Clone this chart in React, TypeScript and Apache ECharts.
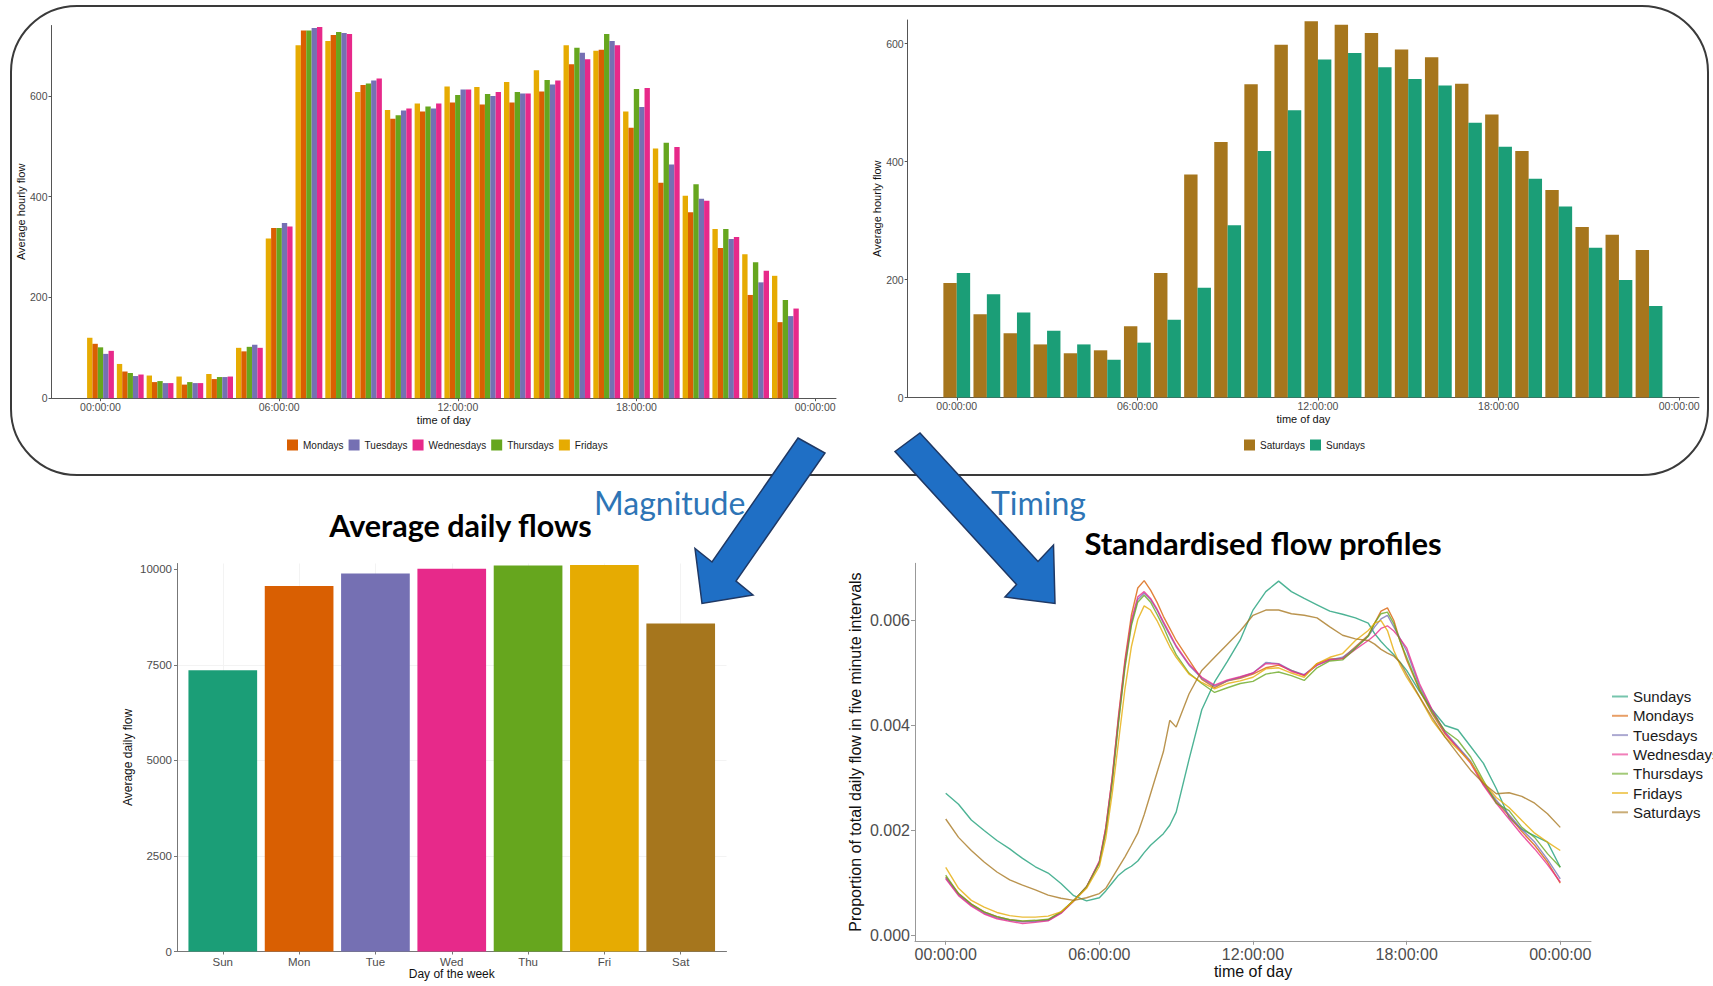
import React, { useEffect, useRef } from "react";
import * as echarts from "echarts";

// ---------- DATA ----------
const HOURS = [0, 1, 2, 3, 4, 5, 6, 7, 8, 9, 10, 11, 12, 13, 14, 15, 16, 17, 18, 19, 20, 21, 22, 23];
const TIME_TICKS = [0, 6, 12, 18, 24];

// Average hourly flow, weekdays (top left)
const MON_HOURLY = [108, 53, 32, 27, 38, 93, 338, 730, 721, 622, 555, 569, 587, 583, 587, 609, 663, 692, 537, 428, 369, 298, 205, 151];
const TUE_HOURLY = [88, 44, 30, 30, 42, 106, 348, 735, 725, 631, 571, 575, 613, 600, 605, 623, 686, 709, 578, 464, 396, 316, 230, 163];
const WED_HOURLY = [94, 47, 30, 30, 43, 100, 341, 737, 723, 635, 575, 585, 613, 608, 605, 631, 673, 701, 616, 499, 392, 320, 253, 178];
const THU_HOURLY = [101, 50, 34, 32, 42, 102, 338, 730, 727, 625, 562, 579, 602, 604, 608, 632, 696, 723, 614, 507, 425, 336, 270, 195];
const FRI_HOURLY = [120, 68, 45, 43, 48, 100, 317, 701, 709, 608, 572, 585, 619, 618, 628, 651, 701, 690, 569, 496, 402, 336, 286, 243];

// Average hourly flow, weekend (top right)
const SAT_HOURLY = [194, 141, 109, 90, 75, 80, 121, 211, 378, 433, 531, 598, 638, 632, 618, 590, 577, 532, 480, 418, 352, 289, 276, 250];
const SUN_HOURLY = [211, 175, 144, 113, 90, 64, 93, 132, 186, 292, 418, 487, 573, 584, 560, 540, 529, 466, 425, 371, 324, 254, 199, 155];

// Average daily flow (bottom left)
const DAYS = ["Sun", "Mon", "Tue", "Wed", "Thu", "Fri", "Sat"];
const DAY_POS = [1, 2, 3, 4, 5, 6, 7];
const DAILY_FLOW = [7360, 9560, 9890, 10010, 10100, 10110, 8580];
const DAILY_TICKS = [0, 2500, 5000, 7500, 10000];

// Standardised profiles (bottom right), values in thousandths
const PROFILE_T = [0, 0.5, 1, 1.5, 2, 2.5, 3, 3.5, 4, 4.5, 5, 5.5, 6, 6.25, 6.5, 6.75, 7, 7.25, 7.5, 7.75, 8, 8.25, 8.5, 8.75, 9, 9.5, 10, 10.5, 11, 11.5, 12, 12.5, 13, 13.5, 14, 14.5, 15, 15.5, 16, 16.5, 16.75, 17, 17.25, 17.5, 17.75, 18, 18.5, 19, 19.5, 20, 20.5, 21, 21.5, 22, 22.5, 23, 23.5, 24];
const SUN_PROFILE = [2.71, 2.5, 2.2, 2.0, 1.81, 1.65, 1.47, 1.31, 1.19, 0.99, 0.76, 0.66, 0.72, 0.85, 1.0, 1.15, 1.25, 1.32, 1.42, 1.58, 1.72, 1.83, 1.94, 2.1, 2.35, 3.35, 4.3, 4.83, 5.22, 5.63, 6.2, 6.55, 6.75, 6.55, 6.42, 6.3, 6.18, 6.12, 6.05, 5.95, 5.75, 5.6, 5.47, 5.35, 5.2, 5.05, 4.65, 4.3, 4.0, 3.92, 3.6, 3.28, 2.8, 2.25, 2.02, 1.9, 1.78, 1.3];
const MON_PROFILE = [1.12, 0.8, 0.6, 0.45, 0.36, 0.3, 0.27, 0.28, 0.3, 0.44, 0.67, 0.93, 1.4, 2.05, 3.0, 4.2, 5.25, 6.1, 6.62, 6.76, 6.58, 6.35, 6.08, 5.85, 5.62, 5.25, 4.88, 4.72, 4.85, 4.9, 4.98, 5.1, 5.15, 5.05, 4.95, 5.18, 5.27, 5.28, 5.5, 5.72, 5.95, 6.18, 6.24, 6.0, 5.6, 5.25, 4.68, 4.22, 3.84, 3.58, 3.3, 2.88, 2.55, 2.28, 1.98, 1.72, 1.4, 1.0];
const TUE_PROFILE = [1.1, 0.78, 0.58, 0.43, 0.34, 0.29, 0.26, 0.27, 0.29, 0.43, 0.66, 0.92, 1.4, 2.0, 2.95, 4.1, 5.15, 5.95, 6.4, 6.52, 6.4, 6.2, 5.95, 5.72, 5.5, 5.15, 4.9, 4.75, 4.85, 4.92, 5.0, 5.2, 5.18, 5.05, 4.97, 5.15, 5.25, 5.3, 5.48, 5.7, 5.88, 6.03, 6.1, 5.88, 5.65, 5.42, 4.75, 4.28, 3.88, 3.6, 3.32, 2.9, 2.58, 2.3, 2.02, 1.78, 1.45, 1.08];
const WED_PROFILE = [1.08, 0.76, 0.56, 0.41, 0.32, 0.27, 0.23, 0.25, 0.28, 0.42, 0.66, 0.93, 1.42, 2.05, 3.0, 4.15, 5.2, 6.0, 6.45, 6.55, 6.42, 6.22, 5.98, 5.75, 5.52, 5.17, 4.92, 4.77, 4.87, 4.93, 5.0, 5.18, 5.17, 5.03, 4.96, 5.15, 5.25, 5.27, 5.45, 5.62, 5.72, 5.85, 5.9, 5.8, 5.65, 5.48, 4.8, 4.3, 3.86, 3.57, 3.28, 2.86, 2.52, 2.22, 1.92, 1.65, 1.35, 1.02];
const THU_PROFILE = [1.15, 0.8, 0.6, 0.45, 0.36, 0.3, 0.28, 0.29, 0.31, 0.45, 0.67, 0.93, 1.38, 1.98, 2.9, 4.05, 5.1, 5.9, 6.35, 6.48, 6.35, 6.12, 5.88, 5.6, 5.35, 5.0, 4.8, 4.63, 4.72, 4.8, 4.84, 4.98, 5.02, 4.95, 4.86, 5.1, 5.23, 5.25, 5.47, 5.7, 5.95, 6.13, 6.16, 5.94, 5.6, 5.3, 4.7, 4.25, 3.9, 3.72, 3.4, 2.95, 2.52, 2.38, 2.06, 1.87, 1.56, 1.3];
const FRI_PROFILE = [1.3, 0.9, 0.67, 0.54, 0.44, 0.38, 0.35, 0.35, 0.37, 0.45, 0.66, 0.9, 1.32, 1.85, 2.7, 3.7, 4.7, 5.5, 6.02, 6.28, 6.2, 6.0, 5.75, 5.5, 5.3, 4.98, 4.82, 4.7, 4.8, 4.85, 4.92, 5.08, 5.1, 5.0, 4.92, 5.18, 5.3, 5.37, 5.62, 5.81, 5.95, 6.0, 5.81, 5.43, 5.15, 4.92, 4.54, 4.1, 3.78, 3.55, 3.3, 2.92, 2.63, 2.44, 2.19, 1.95, 1.78, 1.62];
const SAT_PROFILE = [2.22, 1.87, 1.62, 1.4, 1.21, 1.06, 0.96, 0.87, 0.77, 0.71, 0.67, 0.72, 0.8, 0.9, 1.1, 1.3, 1.5, 1.72, 1.95, 2.3, 2.7, 3.1, 3.5, 4.1, 3.97, 4.6, 5.05, 5.3, 5.55, 5.8, 6.1, 6.2, 6.2, 6.13, 6.1, 6.05, 5.88, 5.72, 5.65, 5.62, 5.55, 5.45, 5.38, 5.32, 5.2, 4.98, 4.55, 4.15, 3.78, 3.46, 3.15, 2.9, 2.7, 2.72, 2.65, 2.52, 2.32, 2.06];
const PROFILE_TICKS = [0, 2, 4, 6];

const COLORS: Record<string, string> = {
  Sundays: "#1B9E77",
  Mondays: "#D95F02",
  Tuesdays: "#7570B3",
  Wednesdays: "#E7298A",
  Thursdays: "#66A61E",
  Fridays: "#E6AB02",
  Saturdays: "#A6761D",
};
const DAY_COLORS = ["#1B9E77", "#D95F02", "#7570B3", "#E7298A", "#66A61E", "#E6AB02", "#A6761D"];

const FONT = "'Liberation Sans', Arial, Helvetica, sans-serif";
const TITLE_FONT = "Lato, 'Open Sans', sans-serif";

function hourLabel(v: number): string {
  const h = ((Math.round(v) % 24) + 24) % 24;
  return (h < 10 ? "0" : "") + h + ":00:00";
}

function timeAxis(gridIndex: number, min: number, max: number, fs: number, nameFs: number, nameGap: number, margin: number, lineColor: string, tickLen: number) {
  return {
    type: "value",
    gridIndex,
    min,
    max,
    name: "time of day",
    nameLocation: "middle",
    nameGap,
    nameTextStyle: { fontSize: nameFs, color: "#111", fontFamily: FONT },
    axisLine: { show: true, onZero: false, lineStyle: { color: lineColor, width: 1 } },
    axisTick: { show: true, customValues: TIME_TICKS, length: tickLen, lineStyle: { color: lineColor } },
    axisLabel: { customValues: TIME_TICKS, formatter: hourLabel, fontSize: fs, color: "#4d4d4d", margin, fontFamily: FONT },
    splitLine: { show: false },
  };
}

function valueAxis(gridIndex: number, min: number, max: number, ticks: number[], name: string, fs: number, nameFs: number, nameGap: number, margin: number, lineColor: string, tickLen: number, fmt: (v: number) => string) {
  return {
    type: "value",
    gridIndex,
    min,
    max,
    name,
    nameLocation: "middle",
    nameGap,
    nameTextStyle: { fontSize: nameFs, color: "#111", fontFamily: FONT },
    axisLine: { show: true, onZero: false, lineStyle: { color: lineColor, width: 1 } },
    axisTick: { show: true, customValues: ticks, length: tickLen, lineStyle: { color: lineColor } },
    axisLabel: { customValues: ticks, fontSize: fs, color: "#4d4d4d", margin, fontFamily: FONT, formatter: fmt },
    splitLine: { show: false },
  };
}

const plain = (v: number) => String(Math.round(v));

const WEEKDAY_DODGE: [string, number[]][] = [
  ["Fridays", FRI_HOURLY],
  ["Mondays", MON_HOURLY],
  ["Thursdays", THU_HOURLY],
  ["Tuesdays", TUE_HOURLY],
  ["Wednesdays", WED_HOURLY],
];
const WEEKEND_DODGE: [string, number[]][] = [
  ["Saturdays", SAT_HOURLY],
  ["Sundays", SUN_HOURLY],
];
const PROFILES: [string, number[]][] = [
  ["Sundays", SUN_PROFILE],
  ["Mondays", MON_PROFILE],
  ["Tuesdays", TUE_PROFILE],
  ["Wednesdays", WED_PROFILE],
  ["Thursdays", THU_PROFILE],
  ["Fridays", FRI_PROFILE],
  ["Saturdays", SAT_PROFILE],
];

function buildOption() {
  const series: any[] = [];
  WEEKDAY_DODGE.forEach(([name, vals]) => {
    series.push({
      type: "bar",
      name,
      xAxisIndex: 0,
      yAxisIndex: 0,
      data: HOURS.map((h, i) => [h, vals[i]]),
      itemStyle: { color: COLORS[name] },
      barGap: "0%",
      barCategoryGap: "10%",
    });
  });
  WEEKEND_DODGE.forEach(([name, vals]) => {
    series.push({
      type: "bar",
      name,
      xAxisIndex: 1,
      yAxisIndex: 1,
      data: HOURS.map((h, i) => [h, vals[i]]),
      itemStyle: { color: COLORS[name] },
      barGap: "0%",
      barCategoryGap: "11%",
    });
  });
  series.push({
    type: "bar",
    name: "Average daily flow",
    xAxisIndex: 2,
    yAxisIndex: 2,
    barCategoryGap: "10%",
    data: DAY_POS.map((p, i) => ({ value: [p, DAILY_FLOW[i]], itemStyle: { color: DAY_COLORS[i] } })),
  });
  PROFILES.forEach(([name, vals]) => {
    series.push({
      type: "line",
      name,
      xAxisIndex: 3,
      yAxisIndex: 3,
      showSymbol: false,
      symbol: "none",
      data: PROFILE_T.map((t, i) => [t, vals[i]]),
      lineStyle: { color: COLORS[name], width: 1.4, opacity: 0.78 },
      itemStyle: { color: COLORS[name] },
    });
  });

  const graphic: any[] = [
    {
      type: "rect",
      shape: { x: 11, y: 6, width: 1697, height: 469, r: 66 },
      style: { fill: "none", stroke: "#3a3a3a", lineWidth: 2 },
      z: 1,
    },
    {
      type: "polygon",
      shape: { points: [[798, 438], [825, 453], [736, 581], [753, 595], [702, 603.5], [695, 548.5], [712, 562]] },
      style: { fill: "#1F6FC5", stroke: "#1F3864", lineWidth: 1.5 },
      z: 20,
    },
    {
      type: "polygon",
      shape: { points: [[895, 451.5], [920, 433], [1038, 561.5], [1053.5, 545], [1055, 603.5], [1005, 597], [1016.5, 584.5]] },
      style: { fill: "#1F6FC5", stroke: "#1F3864", lineWidth: 1.5 },
      z: 20,
    },
    {
      type: "text",
      x: 594,
      y: 502,
      style: { text: "Magnitude", fontFamily: TITLE_FONT, fontSize: 32, fill: "#2E75B6", verticalAlign: "middle", align: "left" },
      z: 21,
    },
    {
      type: "text",
      x: 991,
      y: 502,
      style: { text: "Timing", fontFamily: TITLE_FONT, fontSize: 32, fill: "#2E75B6", verticalAlign: "middle", align: "left" },
      z: 21,
    },
    {
      type: "text",
      x: 460.5,
      y: 525,
      style: { text: "Average daily flows", fontFamily: TITLE_FONT, fontWeight: "bold", fontSize: 30.5, fill: "#000", verticalAlign: "middle", align: "center" },
      z: 21,
    },
    {
      type: "text",
      x: 1263,
      y: 543,
      style: { text: "Standardised flow profiles", fontFamily: TITLE_FONT, fontWeight: "bold", fontSize: 31, fill: "#000", verticalAlign: "middle", align: "center" },
      z: 21,
    },
  ];

  return {
    animation: false,
    backgroundColor: "#ffffff",
    textStyle: { fontFamily: FONT },
    grid: [
      { left: 51.5, top: 25.5, width: 784.5, height: 372.7 },
      { left: 907.7, top: 20, width: 791.3, height: 377.5 },
      { left: 177, top: 563.5, width: 549.5, height: 388 },
      { left: 915, top: 563.3, width: 676, height: 377.5 },
    ],
    xAxis: [
      timeAxis(0, -1.645, 24.7, 10.5, 11, 16, 3, "#555", 3),
      timeAxis(1, -1.63, 24.66, 10.5, 11, 16, 3, "#555", 3),
      {
        type: "value",
        gridIndex: 2,
        min: 0.4,
        max: 7.6,
        name: "Day of the week",
        nameLocation: "middle",
        nameGap: 16,
        nameTextStyle: { fontSize: 12, color: "#111", fontFamily: FONT },
        axisLine: { show: true, onZero: false, lineStyle: { color: "#777", width: 1 } },
        axisTick: { show: true, customValues: DAY_POS, length: 3, lineStyle: { color: "#777" } },
        axisLabel: { customValues: DAY_POS, formatter: (v: number) => DAYS[Math.round(v) - 1], fontSize: 11.5, color: "#4d4d4d", margin: 4, fontFamily: FONT },
        splitLine: { show: true, lineStyle: { color: "#f3f3f3", width: 1 } },
      },
      timeAxis(3, -1.2, 25.2, 16, 16, 23, 6, "#999", 4),
    ],
    yAxis: [
      valueAxis(0, 0, 740, [0, 200, 400, 600], "Average hourly flow", 10.5, 11, 25, 4, "#555", 3, plain),
      valueAxis(1, 0, 640, [0, 200, 400, 600], "Average hourly flow", 10.5, 11, 25, 4, "#555", 3, plain),
      {
        ...valueAxis(2, 0, 10150, DAILY_TICKS, "Average daily flow", 11.5, 12, 43, 5, "#777", 3, plain),
        splitLine: { show: true, showMaxLine: false, lineStyle: { color: "#f3f3f3", width: 1 } },
      },
      valueAxis(3, -0.1, 7.09, PROFILE_TICKS, "Proportion of total daily flow in five minute intervals", 16, 16, 52, 5, "#999", 4, (v: number) => (v / 1000).toFixed(3)),
    ],
    legend: [
      {
        left: 282,
        top: 434.5,
        icon: "rect",
        itemWidth: 11,
        itemHeight: 11,
        itemGap: 5,
        textStyle: { fontSize: 10, color: "#1a1a1a", fontFamily: FONT },
        data: ["Mondays", "Tuesdays", "Wednesdays", "Thursdays", "Fridays"],
        selectedMode: false,
      },
      {
        left: 1239,
        top: 434.5,
        icon: "rect",
        itemWidth: 11,
        itemHeight: 11,
        itemGap: 5,
        textStyle: { fontSize: 10, color: "#1a1a1a", fontFamily: FONT },
        data: ["Saturdays", "Sundays"],
        selectedMode: false,
      },
      {
        orient: "vertical",
        left: 1607,
        top: 683,
        icon: "rect",
        itemWidth: 16,
        itemHeight: 2,
        itemGap: 2.3,
        textStyle: { fontSize: 15, lineHeight: 17, color: "#1a1a1a", fontFamily: FONT },
        data: PROFILES.map(([name]) => ({ name, icon: "rect", itemStyle: { color: COLORS[name], opacity: 0.6 } })),
        selectedMode: false,
      },
    ],
    graphic,
    series,
  };
}

export default function App() {
  const ref = useRef<HTMLDivElement | null>(null);
  useEffect(() => {
    document.body.style.margin = "0";
    if (!ref.current) return;
    const chart = echarts.init(ref.current, undefined, { renderer: "svg" });
    chart.setOption(buildOption() as any);
    return () => {
      chart.dispose();
    };
  }, []);
  return (
    <div
      ref={ref}
      style={{ position: "absolute", left: 0, top: 0, width: 1713, height: 986, background: "#fff" }}
    />
  );
}
